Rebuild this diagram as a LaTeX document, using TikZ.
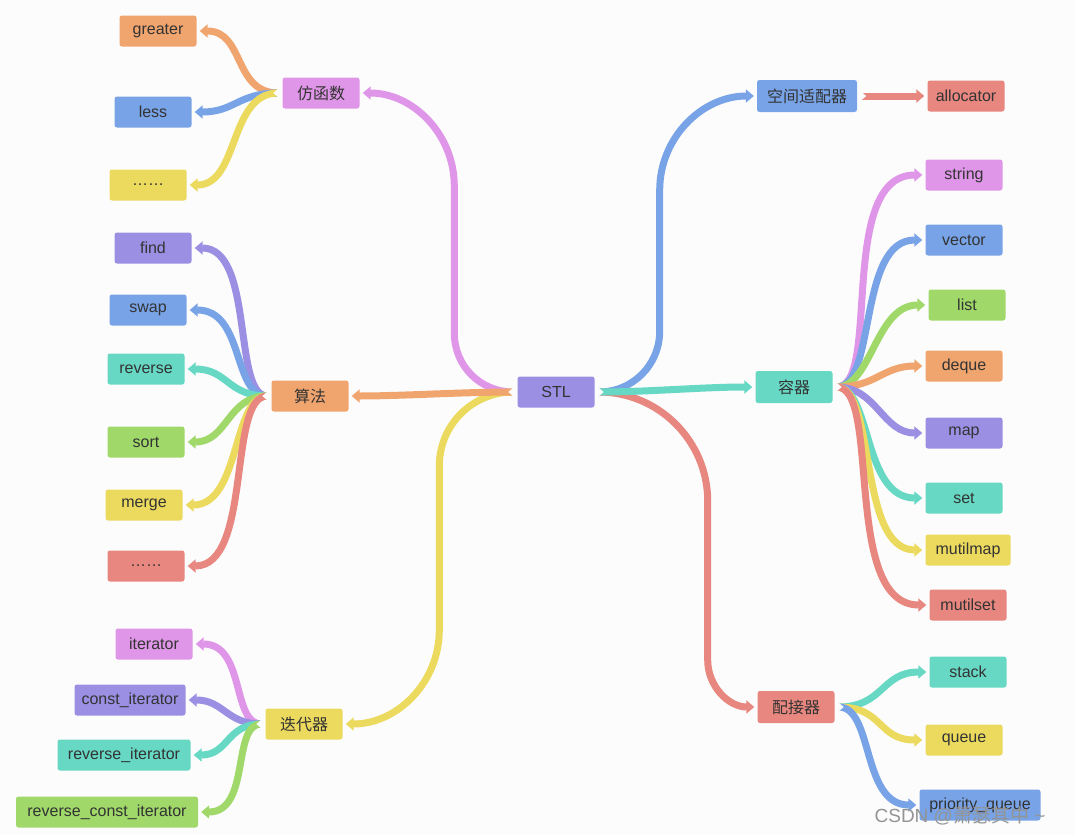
\documentclass[tikz,border=0pt]{standalone}
\usepackage{fontspec}
\setmainfont{Liberation Sans}
\newfontfamily\cjk{Noto Sans CJK SC}
\usetikzlibrary{arrows.meta}
\definecolor{cpink}{HTML}{E096E8}
\definecolor{cpurple}{HTML}{9A8FE3}
\definecolor{cblue}{HTML}{78A3E6}
\definecolor{cteal}{HTML}{66D8C4}
\definecolor{cgreen}{HTML}{A0D86A}
\definecolor{cyellow}{HTML}{EBDA5E}
\definecolor{corange}{HTML}{F0A56E}
\definecolor{cred}{HTML}{E8877F}
\definecolor{bg}{HTML}{FCFCFC}
\definecolor{txt}{HTML}{333333}
\newcommand{\notchL}[1]{\fill[bg] ([xshift=-2pt,yshift=6pt]#1.west) -- ([xshift=-2pt,yshift=-6pt]#1.west) -- ([xshift=-9pt]#1.west) -- cycle;}
\newcommand{\notchR}[1]{\fill[bg] ([xshift=2pt,yshift=6pt]#1.east) -- ([xshift=2pt,yshift=-6pt]#1.east) -- ([xshift=9pt]#1.east) -- cycle;}
\begin{document}
\begin{tikzpicture}[x=1pt,y=-1pt,
  box/.style={rounded corners=2.5pt, minimum width=77pt, minimum height=31pt, inner sep=2pt, text=txt, font=\fontsize{16}{19}\selectfont},
  link/.style={line width=7pt, draw=#1, -{Triangle[length=8pt,width=13pt]}},
]
\fill[bg] (0,0) rectangle (1074,835);
\useasboundingbox (0,0) rectangle (1074,835);

\node[box, fill=cpurple] (stl) at (556,392) {STL};
\node[box, fill=cpink] (fn) at (321,93) {\cjk 仿函数};
\node[box, fill=corange] (greater) at (158,31) {greater};
\node[box, fill=cblue] (less) at (153,112) {less};
\node[box, fill=cyellow] (fdots) at (148,185) {……};
\node[box, fill=corange] (alg) at (310,396) {\cjk 算法};
\node[box, fill=cpurple] (find) at (153,248) {find};
\node[box, fill=cblue] (swap) at (148,310) {swap};
\node[box, fill=cteal] (reverse) at (146,369) {reverse};
\node[box, fill=cgreen] (sort) at (146,442) {sort};
\node[box, fill=cyellow] (merge) at (144,505) {merge};
\node[box, fill=cred] (adots) at (146,566) {……};
\node[box, fill=cyellow] (itr) at (304,724) {\cjk 迭代器};
\node[box, fill=cpink] (iterator) at (154,644) {iterator};
\node[box, fill=cpurple, minimum width=111pt] (citer) at (130,700) {const\_iterator};
\node[box, fill=cteal, minimum width=133pt] (riter) at (124,755) {reverse\_iterator};
\node[box, fill=cgreen, minimum width=182pt] (rciter) at (107,812) {reverse\_const\_iterator};
\node[box, fill=cblue, minimum width=100pt, minimum height=32pt] (alloc) at (807,96) {\cjk 空间适配器};
\node[box, fill=cred] (allocator) at (966,96) {allocator};
\node[box, fill=cteal, minimum height=32pt] (cont) at (794,387) {\cjk 容器};
\node[box, fill=cpink] (string) at (964,175) {string};
\node[box, fill=cblue] (vector) at (964,240) {vector};
\node[box, fill=cgreen] (list) at (967,305) {list};
\node[box, fill=corange] (deque) at (964,366) {deque};
\node[box, fill=cpurple] (map) at (964,433) {map};
\node[box, fill=cteal] (set) at (964,498) {set};
\node[box, fill=cyellow, minimum width=85pt] (mmap) at (968,550) {mutilmap};
\node[box, fill=cred] (mset) at (968,605) {mutilset};
\node[box, fill=cred, minimum height=32pt] (adap) at (796,707) {\cjk 配接器};
\node[box, fill=cteal] (stack) at (968,672) {stack};
\node[box, fill=cyellow] (queue) at (964,740) {queue};
\node[box, fill=cblue, minimum width=121pt] (pq) at (980,805) {priority\_queue};

% connectors: left side of STL
\draw[link=cpink] ([xshift=-4pt]stl.west) .. controls +(-33,0) and +(0,33) .. ++(-59,-59)
   -- ++(0,-147) .. controls +(0,-51) and +(51,0) .. ([xshift=3pt]fn.east);
\draw[link=cyellow] ([xshift=-4pt]stl.west) .. controls +(-41,0) and +(0,-41) .. ++(-74,74)
   -- ++(0,164) .. controls +(0,52) and +(52,0) .. ([xshift=3pt]itr.east);
\draw[link=corange] ([xshift=-4pt]stl.west) .. controls +(-50,0) and +(50,0) .. ([xshift=3pt]alg.east);

\draw[link=corange] ([xshift=-4pt]fn.west) .. controls +(-45,0) and +(45,0) .. ([xshift=3pt]greater.east);
\draw[link=cblue] ([xshift=-4pt]fn.west) .. controls +(-40,0) and +(40,0) .. ([xshift=3pt]less.east);
\draw[link=cyellow] ([xshift=-4pt]fn.west) .. controls +(-50,0) and +(50,0) .. ([xshift=3pt]fdots.east);

\draw[link=cpurple] ([xshift=-4pt]alg.west) .. controls +(-35,0) and +(60,0) .. ([xshift=3pt]find.east);
\draw[link=cblue] ([xshift=-4pt]alg.west) .. controls +(-35,0) and +(55,0) .. ([xshift=3pt]swap.east);
\draw[link=cteal] ([xshift=-4pt]alg.west) .. controls +(-40,0) and +(40,0) .. ([xshift=3pt]reverse.east);
\draw[link=cgreen] ([xshift=-4pt]alg.west) .. controls +(-40,0) and +(40,0) .. ([xshift=3pt]sort.east);
\draw[link=cyellow] ([xshift=-4pt]alg.west) .. controls +(-35,0) and +(55,0) .. ([xshift=3pt]merge.east);
\draw[link=cred] ([xshift=-4pt]alg.west) .. controls +(-40,0) and +(65,0) .. ([xshift=3pt]adots.east);

\draw[link=cpink] ([xshift=-4pt]itr.west) .. controls +(-30,0) and +(50,0) .. ([xshift=3pt]iterator.east);
\draw[link=cpurple] ([xshift=-4pt]itr.west) .. controls +(-35,0) and +(35,0) .. ([xshift=3pt]citer.east);
\draw[link=cteal] ([xshift=-4pt]itr.west) .. controls +(-35,0) and +(35,0) .. ([xshift=3pt]riter.east);
\draw[link=cgreen] ([xshift=-4pt]itr.west) .. controls +(-30,0) and +(50,0) .. ([xshift=3pt]rciter.east);

% connectors: right side of STL
\draw[link=cblue] ([xshift=4pt]stl.east) .. controls +(34,0) and +(0,34) .. ++(61,-61)
   -- ++(0,-141) .. controls +(0,-52) and +(-52,0) .. ([xshift=-3pt]alloc.west);
\draw[link=cred] ([xshift=4pt]stl.east) .. controls +(60,0) and +(0,-60) .. ++(109,109)
   -- ++(0,159) .. controls +(0,26) and +(-26,0) .. ([xshift=-3pt]adap.west);
\draw[link=cteal] ([xshift=4pt]stl.east) .. controls +(50,0) and +(-50,0) .. ([xshift=-3pt]cont.west);
\draw[link=cred] ([xshift=4pt]alloc.east) -- ([xshift=-3pt]allocator.west);

\draw[link=cpink] ([xshift=4pt]cont.east) .. controls +(45,0) and +(-86,0) .. ([xshift=-3pt]string.west);
\draw[link=cblue] ([xshift=4pt]cont.east) .. controls +(40,0) and +(-65,0) .. ([xshift=-3pt]vector.west);
\draw[link=cgreen] ([xshift=4pt]cont.east) .. controls +(35,0) and +(-50,0) .. ([xshift=-3pt]list.west);
\draw[link=corange] ([xshift=4pt]cont.east) .. controls +(40,0) and +(-40,0) .. ([xshift=-3pt]deque.west);
\draw[link=cpurple] ([xshift=4pt]cont.east) .. controls +(40,0) and +(-40,0) .. ([xshift=-3pt]map.west);
\draw[link=cteal] ([xshift=4pt]cont.east) .. controls +(35,0) and +(-60,0) .. ([xshift=-3pt]set.west);
\draw[link=cyellow] ([xshift=4pt]cont.east) .. controls +(40,0) and +(-65,0) .. ([xshift=-3pt]mmap.west);
\draw[link=cred] ([xshift=4pt]cont.east) .. controls +(45,0) and +(-85,0) .. ([xshift=-3pt]mset.west);

\draw[link=cteal] ([xshift=4pt]adap.east) .. controls +(45,0) and +(-45,0) .. ([xshift=-3pt]stack.west);
\draw[link=cyellow] ([xshift=4pt]adap.east) .. controls +(45,0) and +(-45,0) .. ([xshift=-3pt]queue.west);
\draw[link=cblue] ([xshift=4pt]adap.east) .. controls +(35,0) and +(-55,0) .. ([xshift=-3pt]pq.west);

% notches at parent ends
\notchL{stl} \notchL{fn} \notchL{alg} \notchL{itr}
\notchR{stl} \notchR{alloc} \notchR{cont} \notchR{adap}

% watermark
\node[text=black!42, font=\fontsize{19}{22}\selectfont, inner sep=0pt] (wm) at (960,816) {CSDN @{\cjk 萧瑟其中} \textasciitilde};
\end{tikzpicture}
\end{document}
